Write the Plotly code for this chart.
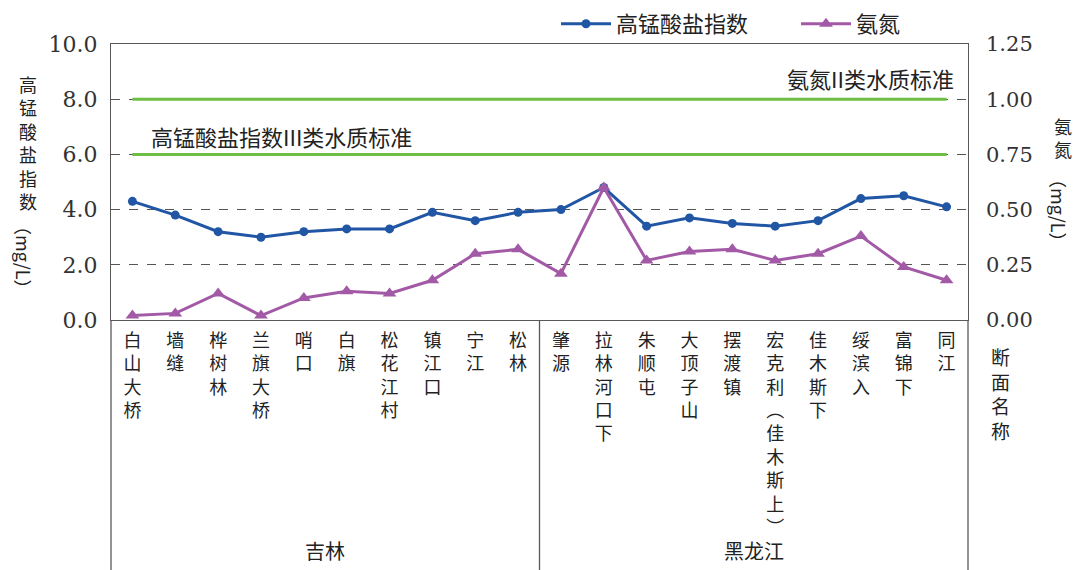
import plotly.graph_objects as go

# ---------------- data ----------------
jilin_sites = ["白山大桥", "墙缝", "桦树林", "兰旗大桥", "哨口", "白旗", "松花江村", "镇江口", "宁江", "松林"]
hlj_sites = ["肇源", "拉林河口下", "朱顺屯", "大顶子山", "摆渡镇", "宏克利（佳木斯上）", "佳木斯下", "绥滨入", "富锦下", "同江"]
sites = jilin_sites + hlj_sites

codmn = [4.3, 3.8, 3.2, 3.0, 3.2, 3.3, 3.3, 3.9, 3.6, 3.9,
         4.0, 4.8, 3.4, 3.7, 3.5, 3.4, 3.6, 4.4, 4.5, 4.1]
nh3n = [0.02, 0.03, 0.12, 0.02, 0.10, 0.13, 0.12, 0.18, 0.30, 0.32,
        0.21, 0.60, 0.27, 0.31, 0.32, 0.27, 0.30, 0.38, 0.24, 0.18]

codmn_std_III = 6.0   # 高锰酸盐指数III类水质标准
nh3n_std_II = 1.0     # 氨氮II类水质标准

left_ticks = [0, 2, 4, 6, 8, 10]
right_ticks = [0, 0.25, 0.5, 0.75, 1.0, 1.25]

groups = ["吉林", "黑龙江"]

# ---------------- styles ----------------
BLUE = "#2156A5"
PURPLE = "#A35AA6"
GREEN = "#6EBF44"
AXIS = "#595959"
TEXT = "#222222"
CJK = "Noto Sans CJK SC"
NUM = "DejaVu Serif"


def vertical(s):
    s = s.replace("（", "︵").replace("）", "︶")
    return "<br>".join(list(s))


fig = go.Figure()

# standard lines
fig.add_trace(go.Scatter(x=[sites[0], sites[-1]], y=[codmn_std_III] * 2, mode="lines",
                         line=dict(color=GREEN, width=3), showlegend=False, hoverinfo="skip"))
fig.add_trace(go.Scatter(x=[sites[0], sites[-1]], y=[nh3n_std_II] * 2, mode="lines", yaxis="y2",
                         line=dict(color=GREEN, width=3), showlegend=False, hoverinfo="skip"))

fig.add_trace(go.Scatter(x=sites, y=codmn, mode="lines+markers", name="高锰酸盐指数",
                         line=dict(color=BLUE, width=3),
                         marker=dict(symbol="circle", size=9, color=BLUE)))
fig.add_trace(go.Scatter(x=sites, y=nh3n, mode="lines+markers", name="氨氮", yaxis="y2",
                         line=dict(color=PURPLE, width=3),
                         marker=dict(symbol="triangle-up", size=12, color=PURPLE)))

L, R, T, B = 111, 111, 44, 250
W, H = 1079, 570
ph = H - T - B
pw = W - L - R
bottom = -B / ph

shapes = []
for xp in [0, 0.5, 1]:
    shapes.append(dict(type="line", xref="paper", yref="paper", x0=xp, x1=xp, y0=0, y1=bottom,
                       line=dict(color=AXIS, width=1.3)))

annotations = [
    dict(text="高锰酸盐指数III类水质标准", xref="paper", yref="paper", x=(149 - L) / pw,
         y=(H - B - 136) / ph, xanchor="left", yanchor="middle", showarrow=False,
         font=dict(family=CJK, size=22, color=TEXT)),
    dict(text="氨氮II类水质标准", xref="paper", yref="paper", x=(956 - L) / pw,
         y=(H - B - 78) / ph, xanchor="right", yanchor="middle", showarrow=False,
         font=dict(family=CJK, size=22, color=TEXT)),
    # left axis title
    dict(text=vertical("高锰酸盐指数"), xref="paper", yref="paper", x=(28 - L) / pw,
         y=(H - B - 142) / ph, xanchor="center", yanchor="middle", showarrow=False,
         font=dict(family=CJK, size=18, color=TEXT)),
    dict(text="（mg/L）", xref="paper", yref="paper", x=(24 - L) / pw,
         y=(H - B - 257) / ph, xanchor="center", yanchor="middle", showarrow=False,
         textangle=90, font=dict(family=CJK, size=18, color=TEXT)),
    # right axis title
    dict(text=vertical("氨氮"), xref="paper", yref="paper", x=(1063 - L) / pw,
         y=(H - B - 137) / ph, xanchor="center", yanchor="middle", showarrow=False,
         font=dict(family=CJK, size=18, color=TEXT)),
    dict(text="（mg/L）", xref="paper", yref="paper", x=(1059 - L) / pw,
         y=(H - B - 210) / ph, xanchor="center", yanchor="middle", showarrow=False,
         textangle=90, font=dict(family=CJK, size=18, color=TEXT)),
    # x axis title
    dict(text=vertical("断面名称"), xref="paper", yref="paper", x=(1000 - L) / pw,
         y=(H - B - 393) / ph, xanchor="center", yanchor="middle", showarrow=False,
         font=dict(family=CJK, size=19, color=TEXT)),
]
for i, g in enumerate(groups):
    annotations.append(dict(text=g, xref="paper", yref="paper", x=0.25 + 0.5 * i,
                            y=(H - B - 550) / ph, xanchor="center", yanchor="middle",
                            showarrow=False, font=dict(family=CJK, size=20, color=TEXT)))

fig.update_layout(
    width=W, height=H,
    margin=dict(l=L, r=R, t=T, b=B, autoexpand=False),
    paper_bgcolor="white", plot_bgcolor="white",
    font=dict(family=CJK, color=TEXT),
    xaxis=dict(type="category", categoryorder="array", categoryarray=sites,
               tickmode="array", tickvals=sites, ticktext=[vertical(s) for s in sites],
               tickangle=0, tickfont=dict(family=CJK, size=18, color=TEXT),
               showgrid=False, showline=True, linecolor=AXIS, linewidth=1.3, mirror=True,
               ticks="", range=[-0.5, len(sites) - 0.5], automargin=False,
               ticklabelstandoff=4),
    yaxis=dict(range=[0, 10], tickvals=left_ticks, tickformat=".1f",
               tickfont=dict(family=NUM, size=22, color="#333333"),
               showgrid=True, gridcolor="#555555", griddash="dash", gridwidth=1,
               showline=True, linecolor=AXIS, linewidth=1.3, mirror=True, ticks="",
               zeroline=False, ticklabelstandoff=8, automargin=False),
    yaxis2=dict(range=[0, 1.25], tickvals=right_ticks, tickformat=".2f", overlaying="y",
                side="right", tickfont=dict(family=NUM, size=21, color="#333333"),
                showgrid=False, zeroline=False, ticks="", showline=False, ticklabelstandoff=17,
                automargin=False),
    legend=dict(orientation="h", x=(556 - L) / pw, y=1 + (T - 3) / ph, xanchor="left", yanchor="top",
                font=dict(family=CJK, size=22, color=TEXT), bgcolor="rgba(0,0,0,0)",
                itemwidth=50, entrywidth=175, entrywidthmode="pixels", traceorder="normal"),
    shapes=shapes,
    annotations=annotations,
)

fig.write_html("out.html", config={"displayModeBar": False},
               post_script="document.body.style.margin='0';document.body.style.overflow='hidden';")
